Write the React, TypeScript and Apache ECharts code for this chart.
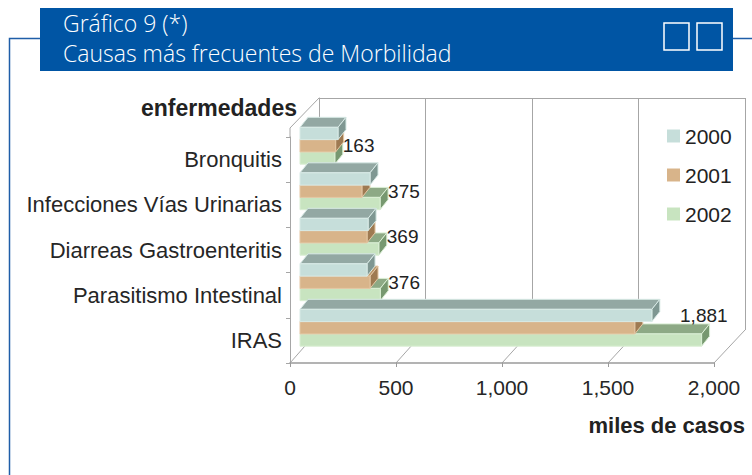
import React, { useEffect, useRef } from "react";
import * as echarts from "echarts";

const categories = [
  "Bronquitis",
  "Infecciones Vías Urinarias",
  "Diarreas Gastroenteritis",
  "Parasitismo Intestinal",
  "IRAS",
];
const years = ["2000", "2001", "2002"];
const values2000 = [178, 328, 319, 314, 1648];
const values2001 = [167, 290, 314, 328, 1568];
const values2002 = [163, 375, 369, 376, 1881];
const xTickValues = [0, 500, 1000, 1500, 2000];
const titleLine1 = "Gráfico 9 (*)";
const titleLine2 = "Causas más frecuentes de Morbilidad";
const yAxisTitle = "enfermedades";
const xAxisTitle = "miles de casos";

const FONT = "'Liberation Sans', Arial, sans-serif";
const GRID_COLOR = "#A6A6A6";
const DX = 8;
const DY = -10;
const LABEL_SIZE = 19;

const palettes = [
  { front: "#C6DEDA", top: "#93A8A3", side: "#7F9792", edge: "#D8EAE6" },
  { front: "#D8B48A", top: "#B99569", side: "#9E7A52", edge: "#E4C7A4" },
  { front: "#C8E4C0", top: "#8DA985", side: "#779870", edge: "#DAEED4" },
];

const fmt = (v: number) => Number(v).toLocaleString("en-US");

function makeRender(si: number, showLabel: boolean) {
  const c = palettes[si];
  return (params: any, api: any) => {
    const v = api.value(0);
    const ci = api.value(1);
    const p0 = api.coord([0, ci]);
    const p1 = api.coord([v, ci]);
    const band = api.size([0, 1])[1];
    const bh = band * 0.27;
    const top = p0[1] - 1.5 * bh + si * bh;
    const x0 = p0[0];
    const x1 = p1[0];
    const children: any[] = [
      {
        type: "polygon",
        shape: { points: [[x0, top], [x0 + DX, top + DY], [x1 + DX, top + DY], [x1, top]] },
        style: { fill: c.top, stroke: c.edge, lineWidth: 1 },
      },
      {
        type: "polygon",
        shape: { points: [[x1, top], [x1 + DX, top + DY], [x1 + DX, top + DY + bh], [x1, top + bh]] },
        style: { fill: c.side, stroke: c.edge, lineWidth: 1 },
      },
      {
        type: "rect",
        shape: { x: x0, y: top, width: x1 - x0, height: bh },
        style: { fill: c.front, stroke: c.edge, lineWidth: 1 },
      },
    ];
    if (showLabel) {
      const text = fmt(v);
      const w = text.length * LABEL_SIZE * 0.54;
      const limit = params.coordSys.x + params.coordSys.width + 18;
      if (x1 + 9 + w > limit) {
        children.push({
          type: "text",
          style: {
            x: x1 + DX + 18,
            y: top + DY - 8,
            text,
            fill: "#222",
            font: `${LABEL_SIZE}px ${FONT}`,
            align: "right",
            verticalAlign: "middle",
          },
        });
      } else {
        children.push({
          type: "text",
          style: {
            x: x1 + 8,
            y: top - 6,
            text,
            fill: "#222",
            font: `${LABEL_SIZE}px ${FONT}`,
            align: "left",
            verticalAlign: "middle",
          },
        });
      }
    }
    return { type: "group", children };
  };
}

export default function App() {
  const ref = useRef<HTMLDivElement>(null);
  useEffect(() => {
    if (!ref.current) return;
    const chart = echarts.init(ref.current, null, { renderer: "svg" });
    const seriesValues = [values2000, values2001, values2002];
    const option: any = {
      animation: false,
      backgroundColor: "#ffffff",
      grid: [
        { left: 290, top: 137, width: 424, height: 226 },
        { left: 319, top: 98, width: 426, height: 232 },
        { left: 300, top: 123, width: 427, height: 227.5 },
      ],
      xAxis: [
        {
          gridIndex: 0,
          type: "value",
          min: 0,
          max: 2000,
          interval: 500,
          axisLine: { show: true, lineStyle: { color: "#9A9A9A", width: 1.5 } },
          axisTick: { show: true, length: 4, lineStyle: { color: "#9A9A9A" } },
          splitLine: { show: false },
          axisLabel: {
            formatter: (v: number) => fmt(v),
            fontSize: 21,
            fontFamily: FONT,
            color: "#262626",
            margin: 14,
          },
        },
        {
          gridIndex: 1,
          type: "value",
          min: 0,
          max: 2000,
          interval: 500,
          position: "top",
          axisLine: { show: true, lineStyle: { color: GRID_COLOR, width: 1 } },
          axisTick: { show: false },
          axisLabel: { show: false },
          splitLine: { show: true, lineStyle: { color: GRID_COLOR, width: 1 } },
        },
        {
          gridIndex: 2,
          type: "value",
          min: 0,
          max: 2000,
          show: false,
        },
      ],
      yAxis: [
        {
          gridIndex: 0,
          type: "category",
          data: categories,
          inverse: true,
          axisLine: { show: true, lineStyle: { color: GRID_COLOR, width: 1 } },
          axisTick: { show: true, length: 4, lineStyle: { color: GRID_COLOR } },
          axisLabel: { fontSize: 22, fontFamily: FONT, color: "#262626", margin: 8 },
        },
        {
          gridIndex: 1,
          type: "category",
          data: categories,
          inverse: true,
          axisLine: { show: true, lineStyle: { color: GRID_COLOR, width: 1 } },
          axisTick: { show: false },
          axisLabel: { show: false },
        },
        {
          gridIndex: 2,
          type: "category",
          data: categories,
          inverse: true,
          show: false,
        },
      ],
      legend: {
        data: years,
        orient: "vertical",
        left: 662,
        top: 120.5,
        itemWidth: 13,
        itemHeight: 13,
        itemGap: 18,
        icon: "rect",
        textStyle: { fontSize: 21, fontFamily: FONT, color: "#222", lineHeight: 21 },
      },
      series: years.map((y, si) => ({
        name: y,
        type: "custom",
        xAxisIndex: 2,
        yAxisIndex: 2,
        z: 6 - si,
        itemStyle: { color: palettes[si].front },
        encode: { x: 0, y: 1 },
        renderItem: makeRender(si, si === 2),
        data: seriesValues[si].map((v, i) => [v, i]),
      })),
    };
    chart.setOption(option);

    const fx = (v: number) => chart.convertToPixel({ xAxisIndex: 0 }, v) as number;
    const bx = (v: number) => chart.convertToPixel({ xAxisIndex: 1 }, v) as number;
    const frontBottom = 363;
    const backBottom = 330;
    const frontTop = 137;
    const backTop = 98;
    const lineStyle = { stroke: GRID_COLOR, lineWidth: 1, fill: "none" };
    const graphics: any[] = [
      {
        type: "polyline",
        z: 1,
        shape: { points: [[9.5, 475], [9.5, 38.5], [40, 38.5]] },
        style: { stroke: "#1F5EA8", lineWidth: 1.5, fill: "none" },
      },
      {
        type: "line",
        z: 1,
        shape: { x1: 733, y1: 38.5, x2: 752, y2: 38.5 },
        style: { stroke: "#1F5EA8", lineWidth: 1.5 },
      },
      {
        type: "rect",
        z: 2,
        shape: { x: 40, y: 8, width: 693, height: 63 },
        style: { fill: "#0055A4" },
      },
      {
        type: "text",
        z: 3,
        style: {
          x: 63,
          y: 23,
          text: titleLine1,
          fill: "#ffffff",
          font: "300 23px 'Open Sans', 'Noto Sans', sans-serif",
          verticalAlign: "middle",
        },
      },
      {
        type: "text",
        z: 3,
        style: {
          x: 63,
          y: 53,
          text: titleLine2,
          fill: "#ffffff",
          font: "300 23px 'Open Sans', 'Noto Sans', sans-serif",
          verticalAlign: "middle",
        },
      },
      {
        type: "rect",
        z: 3,
        shape: { x: 664, y: 23, width: 25, height: 27 },
        style: { fill: "none", stroke: "#ffffff", lineWidth: 1.5 },
      },
      {
        type: "rect",
        z: 3,
        shape: { x: 697, y: 23, width: 25, height: 27 },
        style: { fill: "none", stroke: "#ffffff", lineWidth: 1.5 },
      },
      {
        type: "text",
        z: 3,
        style: {
          x: 297,
          y: 108,
          text: yAxisTitle,
          fill: "#222",
          font: `bold 23px ${FONT}`,
          align: "right",
          verticalAlign: "middle",
        },
      },
      {
        type: "text",
        z: 3,
        style: {
          x: 745,
          y: 425,
          text: xAxisTitle,
          fill: "#222",
          font: `bold 22px ${FONT}`,
          align: "right",
          verticalAlign: "middle",
        },
      },
      {
        type: "polyline",
        z: 0,
        shape: { points: [[fx(0), frontTop], [fx(0), 128], [bx(0), backTop]] },
        style: lineStyle,
      },
    ];
    xTickValues.forEach((v) => {
      graphics.push({
        type: "line",
        z: 0,
        shape: { x1: fx(v), y1: frontBottom, x2: bx(v), y2: backBottom },
        style: lineStyle,
      });
    });
    chart.setOption({ graphic: graphics });
    return () => chart.dispose();
  }, []);
  return (
    <div
      ref={ref}
      style={{ position: "fixed", left: 0, top: 0, width: 752, height: 475, background: "#fff" }}
    />
  );
}
